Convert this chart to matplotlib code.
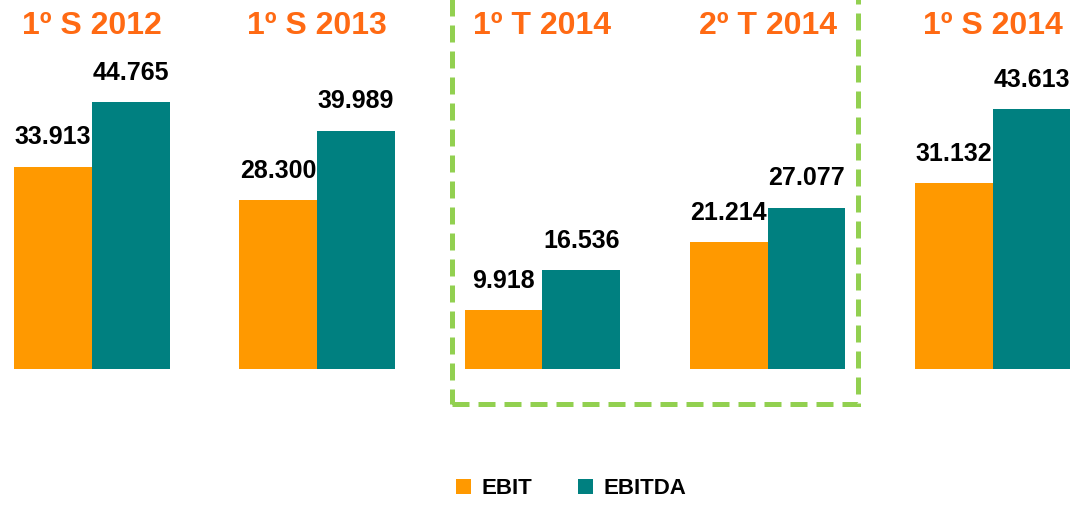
import numpy as np
import matplotlib
matplotlib.use('Agg')
import matplotlib.pyplot as plt
from matplotlib.patches import Rectangle

periodos = ['1º S 2012', '1º S 2013', '1º T 2014', '2º T 2014', '1º S 2014']
ebit = [33913, 28300, 9918, 21214, 31132]
ebitda = [44765, 39989, 16536, 27077, 43613]

cor_ebit = '#FF9900'
cor_ebitda = '#008080'
cor_titulo = '#FF6A13'
fonte = ['Liberation Sans', 'DejaVu Sans']

def fmt(v):
    return f'{v:,}'.replace(',', '.')

fig = plt.figure(figsize=(10.74, 5.05), dpi=100)
ax = fig.add_axes([0, 0, 1, 1])
x = np.arange(len(periodos))
w = 0.345

b1 = ax.bar(x - w/2, ebit, w, color=cor_ebit, label='EBIT')
b2 = ax.bar(x + w/2, ebitda, w, color=cor_ebitda, label='EBITDA')

for xi, v in zip(x - w/2, ebit):
    ax.text(xi, v + 2900, fmt(v), ha='center', va='bottom', fontsize=18,
            fontweight='bold', family=fonte)
for xi, v in zip(x + w/2, ebitda):
    ax.text(xi, v + 2900, fmt(v), ha='center', va='bottom', fontsize=18,
            fontweight='bold', family=fonte)
for xi, p in zip(x, periodos):
    ax.text(xi, 57600, p, ha='center', va='center', fontsize=23,
            fontweight='bold', color=cor_titulo, family=fonte)

ax.set_xlim(-0.4085, 4.3606)
ax.set_ylim(-22807, 61880)
ax.axis('off')

# caixa tracejada do 2014
caixa = Rectangle((452/1074, 1 - 404/505), (858-452)/1074, 0.9, transform=fig.transFigure,
                  fill=False, edgecolor='#92D050', linewidth=3.6,
                  linestyle=(0, (3.4, 1.8)))
fig.patches.append(caixa)

leg = fig.legend(handles=[b1, b2], loc='center', bbox_to_anchor=(0.532, 1 - 489/505),
                 ncol=2, frameon=False, handlelength=0.65, handleheight=0.65,
                 handletextpad=0.5, columnspacing=2.05,
                 prop={'family': fonte, 'weight': 'bold', 'size': 16})

fig.savefig('out.png', dpi=100)
